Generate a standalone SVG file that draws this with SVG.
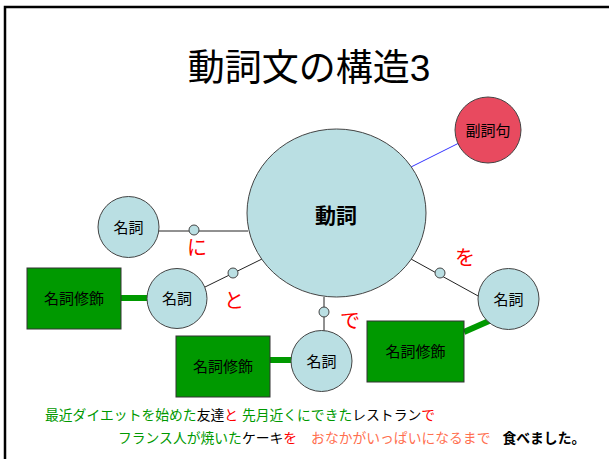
<svg xmlns="http://www.w3.org/2000/svg" width="609" height="459" viewBox="0 0 609 459">
<style>
text{font-family:"Liberation Sans","Noto Sans CJK JP",sans-serif;}
.node{fill:#BADFE3;stroke:#444;stroke-width:1}
.dot{fill:#BADFE3;stroke:#444;stroke-width:1}
.box{fill:#009900;stroke:#333;stroke-width:1}
.lbl{font-size:15px;fill:#000;text-anchor:middle;dominant-baseline:central}
.pt{font-size:20px;fill:#FF0000;text-anchor:middle;dominant-baseline:central}
.ln{stroke:#222;stroke-width:1;fill:none}
.thick{stroke:#009900;stroke-width:6;fill:none}
.g{fill:#009900}.k{fill:#000}.r{fill:#FF0000}.o{fill:#FF6F4F}
</style>
<rect x="0" y="0" width="609" height="459" fill="#fff"/>
<rect x="5" y="7" width="700" height="500" fill="none" stroke="#000" stroke-width="2.5"/>
<text x="309" y="81" font-size="37" text-anchor="middle" fill="#000">動詞文の構造3</text>
<g id="connectors">
<line class="ln" x1="159" y1="231" x2="248" y2="231"/>
<line class="ln" x1="205" y1="287" x2="262" y2="259"/>
<line class="ln" x1="324" y1="297" x2="324" y2="331"/>
<line class="ln" x1="411" y1="259" x2="480" y2="297"/>
<line stroke="#3333FF" stroke-width="1" x1="411" y1="167" x2="459" y2="143"/>
<line class="thick" x1="121" y1="298" x2="147" y2="298"/>
<line class="thick" x1="270" y1="360" x2="292" y2="360"/>
<line class="thick" x1="464" y1="332" x2="489" y2="321"/>
<circle class="dot" cx="194" cy="230" r="5"/>
<circle class="dot" cx="233" cy="273" r="5"/>
<circle class="dot" cx="324" cy="312" r="5"/>
<circle class="dot" cx="440" cy="273" r="5"/>
<text class="pt" x="197" y="248">に</text>
<text class="pt" x="234" y="301">と</text>
<text class="pt" x="350" y="321">で</text>
<text class="pt" x="465" y="258">を</text>
</g>
<g id="verb">
<ellipse class="node" cx="336.5" cy="213" rx="89.5" ry="84"/>
<text x="336" y="215" font-size="21" font-weight="bold" text-anchor="middle" dominant-baseline="central" fill="#000">動詞</text>
</g>
<g id="adverb">
<circle cx="488" cy="130" r="33" fill="#E84A5F" stroke="#444" stroke-width="1"/>
<text class="lbl" x="488" y="130">副詞句</text>
</g>
<g id="noun1">
<circle class="node" cx="128.5" cy="227" r="30.5"/>
<text class="lbl" x="128.5" y="227">名詞</text>
</g>
<g id="noun2">
<circle class="node" cx="177" cy="298.5" r="30"/>
<text class="lbl" x="177" y="298.5">名詞</text>
</g>
<g id="noun3">
<circle class="node" cx="321.5" cy="361" r="30.5"/>
<text class="lbl" x="321.5" y="361">名詞</text>
</g>
<g id="noun4">
<circle class="node" cx="508.5" cy="299" r="30.5"/>
<text class="lbl" x="508.5" y="299">名詞</text>
</g>
<g id="mod1">
<rect class="box" x="27" y="268" width="94" height="61"/>
<text class="lbl" x="74" y="298.5">名詞修飾</text>
</g>
<g id="mod2">
<rect class="box" x="176" y="336" width="94" height="61"/>
<text class="lbl" x="223" y="366.5">名詞修飾</text>
</g>
<g id="mod3">
<rect class="box" x="367" y="321" width="97" height="61"/>
<text class="lbl" x="415.5" y="351.5">名詞修飾</text>
</g>
<text x="45" y="420" font-size="13.8"><tspan class="g">最近ダイエットを始めた</tspan><tspan class="k">友達</tspan><tspan class="r">と</tspan> <tspan class="g">先月近くにできた</tspan><tspan class="k">レストラン</tspan><tspan class="r">で</tspan></text>
<text x="118" y="443" font-size="13.8"><tspan class="g">フランス人が焼いた</tspan><tspan class="k">ケーキ</tspan><tspan class="r">を</tspan><tspan class="o" dx="14">おなかがいっぱいになるまで</tspan><tspan class="k" font-weight="bold" dx="12">食べました。</tspan></text>
</svg>
